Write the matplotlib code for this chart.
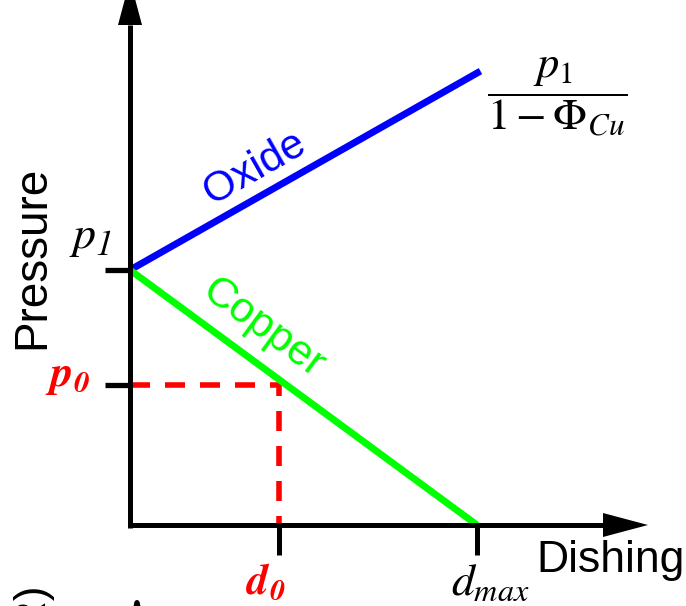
import numpy as np
import matplotlib
matplotlib.use("Agg")
import matplotlib.pyplot as plt
from matplotlib.patches import FancyArrowPatch

plt.rcParams['font.family'] = ['Liberation Sans', 'DejaVu Sans']
plt.rcParams['mathtext.fontset'] = 'custom'
plt.rcParams['mathtext.rm'] = 'STIXGeneral'
plt.rcParams['mathtext.it'] = 'STIXGeneral:italic'
plt.rcParams['mathtext.bf'] = 'STIXGeneral:italic:bold'

# ---- data (normalised: p1 = 1, d_max = 1) ----
dishing_ticks = [0.43, 1.0]
dishing_tick_labels = [r'$\mathbf{d_0}$', r'$d_{max}$']
pressure_ticks = [0.55, 1.0]
pressure_tick_labels = [r'$\mathbf{p_0}$', ('p', '1')]

oxide_d = [0.0, 1.01]
oxide_p = [1.0, 1.78]
copper_d = [0.0, 1.0]
copper_p = [1.0, 0.0]

d0 = dishing_ticks[0]
p0 = pressure_ticks[0]

# ---- layout ----
W, H = 686, 606
ORIGIN = (130, 525)      # pixel position of (0, 0)
SX, SY = 347, 255        # pixels per data unit
PT = 0.72                # points per pixel at 100 dpi

fig = plt.figure(figsize=(W / 100, H / 100), dpi=100)
ax = fig.add_axes([0, 0, 1, 1])
ax.set_xlim(-ORIGIN[0] / SX, (W - ORIGIN[0]) / SX)
ax.set_ylim(-(H - ORIGIN[1]) / SY, ORIGIN[1] / SY)


def to_data(px, py):
    return ((px - ORIGIN[0]) / SX, (ORIGIN[1] - py) / SY)


X_END = to_data(648, 0)[0]
Y_END = to_data(0, -20)[1]
HEAD_L, HEAD_HW = 45, 12
AXIS_LW = 3.6

# axes lines through the origin
for s in ['top', 'right']:
    ax.spines[s].set_visible(False)
ax.spines['left'].set_position(('data', 0))
ax.spines['bottom'].set_position(('data', 0))
ax.spines['left'].set_bounds(-3 / SY, Y_END - HEAD_L / SY)
ax.spines['bottom'].set_bounds(0, X_END - HEAD_L / SX)
for s in ['left', 'bottom']:
    ax.spines[s].set_linewidth(AXIS_LW)
    ax.spines[s].set_capstyle('butt')

ax.set_xticks(dishing_ticks)
ax.set_yticks(pressure_ticks)
ax.tick_params(axis='x', direction='out', length=30 * PT, width=AXIS_LW,
               labelbottom=False)
ax.tick_params(axis='y', direction='out', length=25 * PT, width=3.8,
               labelleft=False)

head_style = (f'-|>,head_length={HEAD_L * PT},head_width={HEAD_HW * PT}')


def arrow_head(start, tip):
    ax.add_patch(FancyArrowPatch(posA=start, posB=tip, arrowstyle=head_style,
                                 mutation_scale=1, lw=0, fc='black',
                                 ec='none', shrinkA=0, shrinkB=0, zorder=3))


arrow_head((X_END - HEAD_L / SX, 0), (X_END, 0))
arrow_head((0, Y_END - HEAD_L / SY), (0, Y_END))

# guide to the working point
ax.plot([0, d0, d0], [p0, p0, 0], color='#ff0000', lw=4, dashes=(3.6, 2.7),
        zorder=1.5)

# pressure lines
ax.plot(oxide_d, oxide_p, color='#0000ff', lw=5, solid_capstyle='butt')
ax.plot(copper_d, copper_p, color='#00ff00', lw=5, solid_capstyle='butt')


def line_angle(xs, ys):
    a = ax.transData.transform((xs[0], ys[0]))
    b = ax.transData.transform((xs[-1], ys[-1]))
    return np.degrees(np.arctan2(b[1] - a[1], b[0] - a[0]))


ox_at = 0.36
ax.annotate('Oxide', xy=(ox_at, np.interp(ox_at, oxide_d, oxide_p)),
            xytext=(0, 31), textcoords='offset pixels',
            rotation=line_angle(oxide_d, oxide_p), rotation_mode='anchor',
            ha='center', va='center', fontsize=30.5, color='#0000ff')

cu_at = 0.392
ax.annotate('Copper', xy=(cu_at, np.interp(cu_at, copper_d, copper_p)),
            xytext=(-3, 41), textcoords='offset pixels',
            rotation=line_angle(copper_d, copper_p), rotation_mode='anchor',
            ha='center', va='center', fontsize=31, color='#00ff00')

# tick labels
serif_it = dict(family='STIXGeneral', style='italic')
p_sym, p_sub = pressure_tick_labels[1]
ax.annotate(p_sym, xy=(0, pressure_ticks[1]),
            xytext=(-46, 22), textcoords='offset pixels',
            ha='center', va='baseline', fontsize=33, color='black',
            **serif_it)
ax.annotate(p_sub, xy=(0, pressure_ticks[1]),
            xytext=(-26, 15), textcoords='offset pixels',
            ha='center', va='baseline', fontsize=25, color='black',
            **serif_it)
ax.annotate(pressure_tick_labels[0], xy=(0, pressure_ticks[0]),
            xytext=(-62, 8), textcoords='offset pixels',
            ha='center', va='center', fontsize=32, color='#ff0000')
ax.annotate(dishing_tick_labels[0], xy=(dishing_ticks[0], 0),
            xytext=(-13, -58), textcoords='offset pixels',
            ha='center', va='center', fontsize=31, color='#ff0000')
ax.annotate(dishing_tick_labels[1], xy=(dishing_ticks[1], 0),
            xytext=(13, -58), textcoords='offset pixels',
            ha='center', va='center', fontsize=33, color='black')

# oxide pressure at full dishing
ax.annotate(r'$\dfrac{p_1}{1-\Phi_{Cu}}$', xy=(oxide_d[-1], oxide_p[-1]),
            xytext=(77, -26), textcoords='offset pixels',
            ha='center', va='center', fontsize=32, color='black')

# axis titles
fig.text(32 / W, 1 - 257 / H, 'Pressure', rotation=90, ha='center',
         va='center', fontsize=33)
fig.text(611 / W, 1 - 572 / H, 'Dishing', ha='center', va='baseline',
         fontsize=32)

# start of the next panel below
fig.text(32 / W, 1 - 582 / H, '(R)', rotation=90, ha='center', va='top',
         fontsize=32)
ax.add_patch(FancyArrowPatch(posA=to_data(137, 650), posB=to_data(137, 593),
                             arrowstyle=head_style, mutation_scale=1,
                             lw=AXIS_LW, color='black', shrinkA=0, shrinkB=0))

fig.savefig('out.png', dpi=100)
